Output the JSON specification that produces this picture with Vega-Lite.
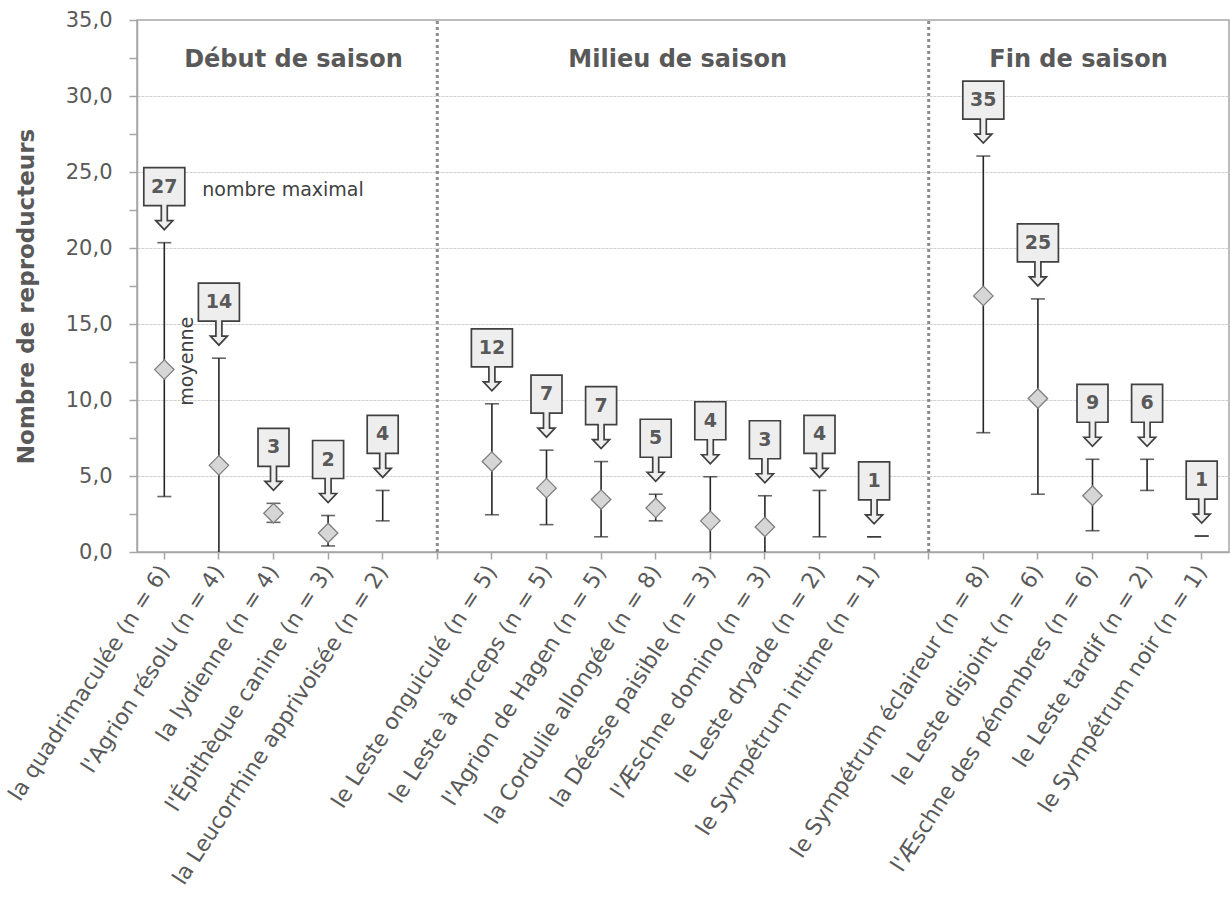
{
  "$schema": "https://vega.github.io/schema/vega-lite/v6.json",
  "width": 1092,
  "height": 532,
  "autosize": "none",
  "padding": {"left": 137, "top": 20, "right": 1, "bottom": 352},
  "background": "white",
  "config": {
    "view": {"stroke": "#a6a6a6", "strokeWidth": 1.5},
    "font": "DejaVu Sans",
    "locale": {"number": {"decimal": ",", "thousands": " ", "grouping": [3], "currency": ["", " €"]}}
  },
  "resolve": {"axis": {"y": "independent"}},
  "datasets": {
    "species": [
      {"espece": "la quadrimaculée (n = 6)", "max": 27, "mean": 12.0, "low": 3.65, "high": 20.35},
      {"espece": "l'Agrion résolu (n = 4)", "max": 14, "mean": 5.7, "low": -1.35, "high": 12.75},
      {"espece": "la lydienne (n = 4)", "max": 3, "mean": 2.55, "low": 1.95, "high": 3.2},
      {"espece": "l'Épithèque canine (n = 3)", "max": 2, "mean": 1.25, "low": 0.4, "high": 2.4},
      {"espece": "la Leucorrhine apprivoisée (n = 2)", "max": 4, "mean": null, "low": 2.05, "high": 4.05},
      {"espece": "le Leste onguiculé (n = 5)", "max": 12, "mean": 5.95, "low": 2.45, "high": 9.75},
      {"espece": "le Leste à forceps (n = 5)", "max": 7, "mean": 4.2, "low": 1.8, "high": 6.7},
      {"espece": "l'Agrion de Hagen (n = 5)", "max": 7, "mean": 3.45, "low": 1.0, "high": 5.95},
      {"espece": "la Cordulie allongée (n = 8)", "max": 5, "mean": 2.9, "low": 2.05, "high": 3.8},
      {"espece": "la Déesse paisible (n = 3)", "max": 4, "mean": 2.05, "low": -0.9, "high": 4.95},
      {"espece": "l'Æschne domino (n = 3)", "max": 3, "mean": 1.65, "low": -0.35, "high": 3.7},
      {"espece": "le Leste dryade (n = 2)", "max": 4, "mean": null, "low": 1.0, "high": 4.05},
      {"espece": "le Sympétrum intime (n = 1)", "max": 1, "mean": null, "low": 1.0, "high": 1.0},
      {"espece": "le Sympétrum éclaireur (n = 8)", "max": 35, "mean": 16.85, "low": 7.85, "high": 26.05},
      {"espece": "le Leste disjoint (n = 6)", "max": 25, "mean": 10.1, "low": 3.8, "high": 16.65},
      {"espece": "l'Æschne des pénombres (n = 6)", "max": 9, "mean": 3.7, "low": 1.4, "high": 6.1},
      {"espece": "le Leste tardif (n = 2)", "max": 6, "mean": null, "low": 4.05, "high": 6.1},
      {"espece": "le Sympétrum noir (n = 1)", "max": 1, "mean": null, "low": 1.05, "high": 1.05}
    ]
  },
  "encoding": {
    "x": {
      "field": "espece",
      "type": "nominal",
      "sort": null,
      "title": null,
      "scale": {
        "domain": [
          "la quadrimaculée (n = 6)", "l'Agrion résolu (n = 4)", "la lydienne (n = 4)", "l'Épithèque canine (n = 3)", "la Leucorrhine apprivoisée (n = 2)",
          "_g1",
          "le Leste onguiculé (n = 5)", "le Leste à forceps (n = 5)", "l'Agrion de Hagen (n = 5)", "la Cordulie allongée (n = 8)", "la Déesse paisible (n = 3)", "l'Æschne domino (n = 3)", "le Leste dryade (n = 2)", "le Sympétrum intime (n = 1)",
          "_g2",
          "le Sympétrum éclaireur (n = 8)", "le Leste disjoint (n = 6)", "l'Æschne des pénombres (n = 6)", "le Leste tardif (n = 2)", "le Sympétrum noir (n = 1)"
        ],
        "paddingInner": 0,
        "paddingOuter": 0
      },
      "axis": {
        "labelExpr": "indexof(datum.label, '_g') === 0 ? '' : datum.label",
        "labelAngle": -57,
        "labelAlign": "right",
        "labelBaseline": "middle",
        "labelFontSize": 22,
        "labelColor": "#595959",
        "labelPadding": 8,
        "labelLimit": 600,
        "labelOverlap": false,
        "ticks": true,
        "tickSize": 7,
        "tickColor": "#a6a6a6",
        "tickWidth": 1.5,
        "domainColor": "#a6a6a6",
        "domainWidth": 1.5,
        "grid": false
      }
    }
  },
  "layer": [
    {
      "data": {"values": [{"espece": "_g1"}, {"espece": "_g2"}]},
      "mark": {"type": "rule", "color": "#8c8c8c", "strokeWidth": 3, "strokeDash": [3, 3]},
      "encoding": {
        "y": {
          "datum": 0,
          "type": "quantitative",
          "scale": {"domain": [0, 35], "nice": false, "zero": false, "clamp": true},
          "axis": {
            "orient": "left",
            "values": [5, 10, 15, 20, 25, 30],
            "grid": true,
            "gridColor": "#cfcfcf",
            "gridDash": [3, 1],
            "gridWidth": 1,
            "labels": false,
            "ticks": false,
            "domain": false,
            "title": null
          }
        },
        "y2": {"datum": 35}
      }
    },
    {
      "data": {"name": "species"},
      "mark": {"type": "rule", "color": "#262626", "strokeWidth": 1.6},
      "encoding": {
        "y": {
          "field": "low",
          "type": "quantitative",
          "title": "Nombre de reproducteurs",
          "axis": {
            "orient": "left",
            "values": [0, 2.5, 5, 7.5, 10, 12.5, 15, 17.5, 20, 22.5, 25, 27.5, 30, 32.5, 35],
            "format": ".1f",
            "labelExpr": "datum.value % 5 === 0 ? datum.label : ''",
            "labelFontSize": 21,
            "labelColor": "#595959",
            "labelPadding": 17,
            "tickSize": 8,
            "tickColor": "#a6a6a6",
            "tickWidth": 1.5,
            "domainColor": "#a6a6a6",
            "domainWidth": 1.5,
            "grid": false,
            "titleFontSize": 23,
            "titleFontWeight": "bold",
            "titleColor": "#595959",
            "titleX": -111,
            "titleY": 276,
            "titleAlign": "center",
            "titleBaseline": "middle",
            "titleAngle": -90
          }
        },
        "y2": {"field": "high"}
      }
    },
    {
      "data": {"name": "species"},
      "mark": {"type": "tick", "color": "#262626", "size": 14, "thickness": 1.6, "orient": "horizontal"},
      "encoding": {
        "y": {"field": "high", "type": "quantitative", "axis": null}
      }
    },
    {
      "data": {"name": "species"},
      "transform": [{"filter": "datum.low >= 0"}],
      "mark": {"type": "tick", "color": "#262626", "size": 14, "thickness": 1.6, "orient": "horizontal"},
      "encoding": {
        "y": {"field": "low", "type": "quantitative", "axis": null}
      }
    },
    {
      "data": {"name": "species"},
      "transform": [{"filter": "datum.mean != null"}],
      "mark": {"type": "point", "shape": "diamond", "filled": true, "fill": "#d6d6d6", "stroke": "#7f7f7f", "strokeWidth": 1.3, "size": 380, "opacity": 1},
      "encoding": {
        "y": {"field": "mean", "type": "quantitative", "axis": null}
      }
    },
    {
      "data": {"name": "species"},
      "mark": {"type": "point", "filled": true, "fill": "#eeeeee", "stroke": "#404040", "strokeWidth": 1.7, "size": 3969, "opacity": 1, "yOffset": -44},
      "encoding": {
        "y": {"field": "high", "type": "quantitative", "axis": null},
        "shape": {
          "condition": {"test": "datum.max >= 10", "value": "M-0.651,-0.984L0.651,-0.984L0.651,0.222L0.095,0.222L0.095,0.698L0.27,0.698L0,0.984L-0.27,0.698L-0.095,0.698L-0.095,0.222L-0.651,0.222Z"},
          "value": "M-0.492,-0.984L0.492,-0.984L0.492,0.222L0.095,0.222L0.095,0.698L0.27,0.698L0,0.984L-0.27,0.698L-0.095,0.698L-0.095,0.222L-0.492,0.222Z"
        }
      }
    },
    {
      "data": {"name": "species"},
      "mark": {"type": "text", "fontSize": 19, "fontWeight": "bold", "color": "#595959", "align": "center", "baseline": "middle", "yOffset": -56},
      "encoding": {
        "y": {"field": "high", "type": "quantitative", "axis": null},
        "text": {"field": "max", "type": "quantitative", "format": "d"}
      }
    },
    {
      "data": {"values": [{"espece": "la lydienne (n = 4)", "y": 32.4, "label": "Début de saison"}]},
      "mark": {"type": "text", "fontSize": 24, "fontWeight": "bold", "color": "#595959", "align": "center", "baseline": "middle", "dx": 20},
      "encoding": {
        "y": {"field": "y", "type": "quantitative", "axis": null},
        "text": {"field": "label"}
      }
    },
    {
      "data": {"values": [{"espece": "la Cordulie allongée (n = 8)", "y": 32.4, "label": "Milieu de saison"}]},
      "mark": {"type": "text", "fontSize": 24, "fontWeight": "bold", "color": "#595959", "align": "center", "baseline": "middle", "dx": 22},
      "encoding": {
        "y": {"field": "y", "type": "quantitative", "axis": null},
        "text": {"field": "label"}
      }
    },
    {
      "data": {"values": [{"espece": "l'Æschne des pénombres (n = 6)", "y": 32.4, "label": "Fin de saison"}]},
      "mark": {"type": "text", "fontSize": 24, "fontWeight": "bold", "color": "#595959", "align": "center", "baseline": "middle", "dx": -14},
      "encoding": {
        "y": {"field": "y", "type": "quantitative", "axis": null},
        "text": {"field": "label"}
      }
    },
    {
      "data": {"values": [{"espece": "la quadrimaculée (n = 6)", "y": 23.8, "label": "nombre maximal"}]},
      "mark": {"type": "text", "fontSize": 19, "color": "#404040", "align": "left", "baseline": "middle", "dx": 38},
      "encoding": {
        "y": {"field": "y", "type": "quantitative", "axis": null},
        "text": {"field": "label"}
      }
    },
    {
      "data": {"values": [{"espece": "la quadrimaculée (n = 6)", "y": 12.55, "label": "moyenne"}]},
      "mark": {"type": "text", "fontSize": 19, "color": "#404040", "align": "center", "baseline": "middle", "angle": 270, "xOffset": 23},
      "encoding": {
        "y": {"field": "y", "type": "quantitative", "axis": null},
        "text": {"field": "label"}
      }
    }
  ]
}
